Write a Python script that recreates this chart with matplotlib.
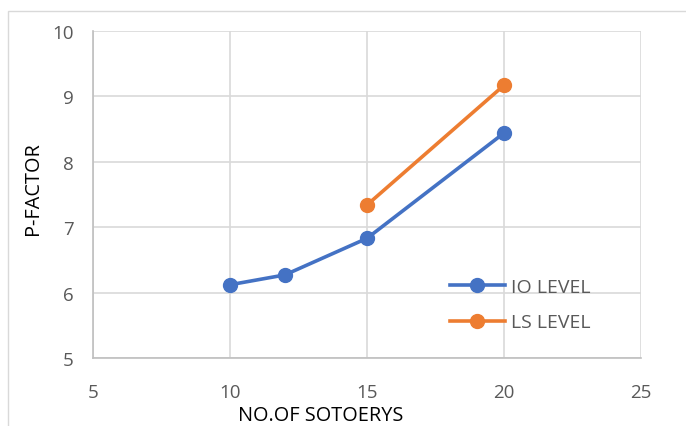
import matplotlib
matplotlib.use("Agg")
import matplotlib.pyplot as plt
from matplotlib.patches import Rectangle

io_x = [10, 12, 15, 20]
io_y = [6.12, 6.27, 6.83, 8.44]
ls_x = [15, 20]
ls_y = [7.34, 9.17]
xticks = [5, 10, 15, 20, 25]
yticks = [5, 6, 7, 8, 9, 10]

plt.rcParams['font.family'] = ['Open Sans', 'DejaVu Sans']

fig = plt.figure(figsize=(6.86, 4.27), dpi=100)
ax = fig.add_axes([93/686, 1-359/427, (641-93)/686, (359-32)/427])

fig.patches.append(Rectangle((8/686, -0.1), 1.2, (427-12)/427 + 0.1, transform=fig.transFigure,
                             fill=False, edgecolor='#d9d9d9', linewidth=1))

ax.plot(io_x, io_y, color='#4472C4', lw=2.6, marker='o', ms=10, label='IO LEVEL')
ax.plot(ls_x, ls_y, color='#ED7D31', lw=2.6, marker='o', ms=10, label='LS LEVEL')

ax.set_xlim(5, 25)
ax.set_ylim(5, 10)
ax.set_xticks(xticks)
ax.set_yticks(yticks)
ax.grid(True, color='#d9d9d9', lw=1.2)
ax.set_axisbelow(True)
for s in ['top', 'right']:
    ax.spines[s].set_visible(False)
for s in ['left', 'bottom']:
    ax.spines[s].set_color('#bfbfbf')
    ax.spines[s].set_linewidth(1.2)
ax.tick_params(length=0, labelsize=13.5, labelcolor='#595959')
ax.tick_params(axis='x', pad=18)
ax.tick_params(axis='y', pad=14)

ax.set_xlabel('NO.OF SOTOERYS', fontsize=14.3, color='black', labelpad=0)
ax.xaxis.set_label_coords(0.416, -0.145)
ax.set_ylabel('P-FACTOR', fontsize=14.3, color='black', labelpad=10)
ax.yaxis.set_label_coords(-0.092, 0.52)

leg = ax.legend(loc='center left', bbox_to_anchor=(0.62, 0.163), frameon=False,
                fontsize=14, handlelength=2.8, labelspacing=0.9, handletextpad=0.3)
for t in leg.get_texts():
    t.set_color('#595959')

fig.savefig('out.png', dpi=100)
